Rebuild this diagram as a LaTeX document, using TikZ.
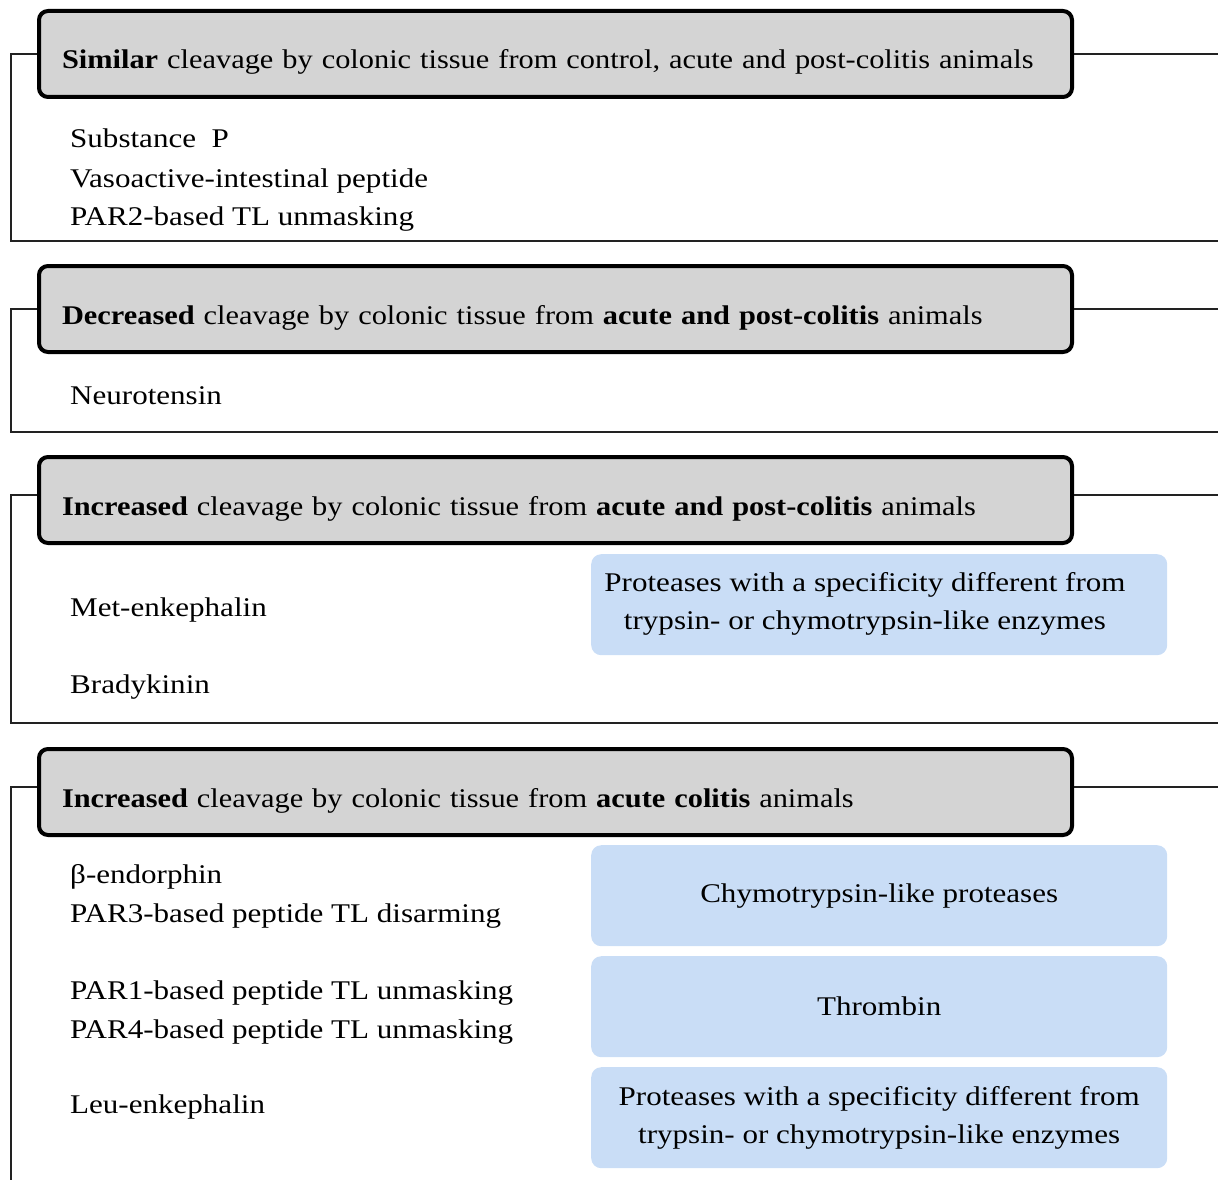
\documentclass[tikz,border=0pt]{standalone}
\usepackage{fontspec}
\setmainfont{Liberation Serif}[FakeStretch=1.15]
\newfontfamily\hdrfont{Liberation Serif}[FakeStretch=1.125]
\definecolor{hdrgray}{HTML}{D4D4D4}
\definecolor{boxblue}{HTML}{C9DDF6}
\definecolor{linegray}{HTML}{222222}
\begin{document}
\begin{tikzpicture}[x=1pt,y=-1pt,
  every node/.style={font=\fontsize{27}{38.5}\selectfont, inner sep=0pt},
  hdr/.style={draw=black, line width=4pt, fill=hdrgray, rounded corners=9pt,
    minimum width=1033pt, minimum height=86pt, text width=987pt, align=left, anchor=west,
    text height=30pt, text depth=0pt, font=\fontsize{27}{38.5}\hdrfont},
  blue/.style={fill=boxblue, rounded corners=10pt, minimum width=576pt, minimum height=101pt, anchor=north west},
  item/.style={anchor=base west, align=left},
  conn/.style={draw=linegray, line width=1.3pt}]
\useasboundingbox (0,0) rectangle (1218,1180);

% Section 1
\node[hdr] (h1) at (37,54) {\textbf{Similar} cleavage by colonic tissue from control, acute and post-colitis animals};
\coordinate (l1) at (11,54); \coordinate (b1) at (1218,241); \coordinate (r1) at (1218,54);
\draw[conn] (h1.west) -- (l1) |- (b1);
\draw[conn] (h1.east) -- (r1);
\node[item] (t1a) at (70,148) {Substance\ \ P};
\node[item] (t1b) at (70,187) {Vasoactive-intestinal peptide};
\node[item] (t1c) at (70,225) {PAR2-based TL unmasking};

% Section 2
\node[hdr] (h2) at (37,309) {\textbf{Decreased} cleavage by colonic tissue from \textbf{acute and post-colitis} animals};
\coordinate (l2) at (11,309); \coordinate (b2) at (1218,432); \coordinate (r2) at (1218,309);
\draw[conn] (h2.west) -- (l2) |- (b2);
\draw[conn] (h2.east) -- (r2);
\node[item] (t2a) at (70,404) {Neurotensin};

% Section 3
\node[hdr] (h3) at (37,500) {\textbf{Increased} cleavage by colonic tissue from \textbf{acute and post-colitis} animals};
\coordinate (l3) at (11,495); \coordinate (b3) at (1218,723); \coordinate (r3) at (1218,495);
\draw[conn] (h3.west |- l3) -- (l3) |- (b3);
\draw[conn] (h3.east |- r3) -- (r3);
\node[item] (t3a) at (70,616) {Met-enkephalin};
\node[item] (t3b) at (70,693) {Bradykinin};
\node[blue] (p3) at (591,554) {};
\node[anchor=center, align=center] (p3t) at (865,604) {Proteases with a specificity different from\\trypsin- or chymotrypsin-like enzymes};

% Section 4
\node[hdr] (h4) at (37,792) {\textbf{Increased} cleavage by colonic tissue from \textbf{acute colitis} animals};
\coordinate (l4) at (11,787); \coordinate (b4) at (11,1180); \coordinate (r4) at (1218,787);
\draw[conn] (h4.west |- l4) -- (l4) -- (b4);
\draw[conn] (h4.east |- r4) -- (r4);
\node[item] (t4a) at (70,883) {β-endorphin};
\node[item] (t4b) at (70,922) {PAR3-based peptide TL disarming};
\node[item] (t4c) at (70,999) {PAR1-based peptide TL unmasking};
\node[item] (t4d) at (70,1038) {PAR4-based peptide TL unmasking};
\node[item] (t4e) at (70,1113) {Leu-enkephalin};
\node[blue] (p4a) at (591,845) {Chymotrypsin-like proteases};
\node[blue] (p4b) at (591,956) {Thrombin};
\node[blue, align=center] (p4c) at (591,1067) {Proteases with a specificity different from\\trypsin- or chymotrypsin-like enzymes};
\end{tikzpicture}
\end{document}
